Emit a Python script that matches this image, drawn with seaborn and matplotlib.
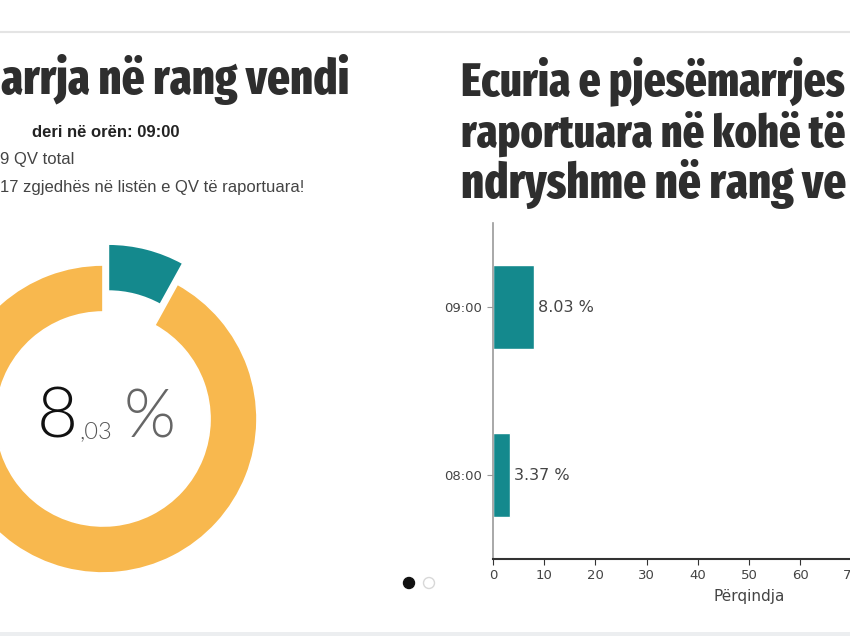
import matplotlib
matplotlib.use("Agg")
import matplotlib.pyplot as plt
from matplotlib.patches import Ellipse, Rectangle
from matplotlib.lines import Line2D
import seaborn as sns
import pandas as pd

# ---- data ----
times = ["09:00", "08:00"]
turnout = [8.03, 3.37]
donut_labels = ["Votuan", "Pa votuar"]
donut_values = [8.03, 91.97]
x_ticks = [0, 10, 20, 30, 40, 50, 60, 70]
title_left = "arrja në rang vendi"
title_right = ["Ecuria e pjesëmarrjes", "raportuara në kohë të", "ndryshme në rang ve"]
info_bold = "deri në orën: 09:00"
info_lines = ["9 QV total", "17 zgjedhës në listën e QV të raportuara!"]

TEAL = "#14898d"
ORANGE = "#f8b84e"
W, H = 850, 636

sns.set_theme(style="white")
plt.rcParams["font.family"] = ["DejaVu Sans"]

fig = plt.figure(figsize=(W / 100, H / 100), dpi=100)
fig.patch.set_facecolor("white")
renderer = fig.canvas.get_renderer()


def fx(x):
    return x / W


def fy(y):
    return 1 - y / H


def fit_text(text, xl, xr, yb, **kw):
    t = fig.text(fx(xl), fy(yb), text, ha="left", va="baseline", fontsize=40, **kw)
    w = t.get_window_extent(renderer).width
    t.set_fontsize(40 * (xr - xl) / w)
    return t


# page borders
fig.add_artist(Line2D([0, 1], [fy(32), fy(32)], color="#e4e4e4", lw=1.5,
                      transform=fig.transFigure))
fig.add_artist(Rectangle((0, 0), 1, fy(632), color="#eceef0",
                         transform=fig.transFigure, lw=0))

# ---- titles and info text ----
TITLE_FONT = ["Fira Sans Extra Condensed", "Barlow Condensed", "DejaVu Sans"]
tkw = dict(fontweight=800, color="#2e2e2e", family=TITLE_FONT)
fit_text(title_left, 1, 349, 94, **tkw)
for line, yb, xr in zip(title_right, [95, 147, 198], [846, 846, 846]):
    fit_text(line, 461, xr, yb, **tkw)

INFO_FONT = ["Liberation Sans", "DejaVu Sans"]
fig.text(fx(32), fy(137), info_bold, ha="left", va="baseline",
         fontsize=12, fontweight="bold", color="#222222", family=INFO_FONT)
for line, yb in zip(info_lines, [164, 192]):
    fig.text(fx(0), fy(yb), line, ha="left", va="baseline",
             fontsize=12, color="#444444", family=INFO_FONT)

# ---- donut ----
R = 154.0
box = 190.0
cx, cy = 103.0, 419.0
axd = fig.add_axes([fx(cx - box), fy(cy + box), 2 * box / W, 2 * box / H])
axd.pie(donut_values, colors=[TEAL, ORANGE], startangle=90, counterclock=False,
        explode=[0.14, 0], radius=1.0,
        wedgeprops=dict(width=47 / R, edgecolor="white", linewidth=1.2))
axd.set_xlim(-box / R, box / R)
axd.set_ylim(-box / R, box / R)
axd.set_aspect("auto")
axd.axis("off")

BIG_FONT = ["Lato", "DejaVu Sans"]
fig.text(fx(37), fy(438), "8", ha="left", va="baseline", fontsize=51,
         fontweight=300, color="#111111", family=BIG_FONT)
fig.text(fx(79), fy(438), ",03", ha="left", va="baseline", fontsize=17,
         fontweight=300, color="#555555", family=BIG_FONT)
fig.text(fx(124), fy(438), "%", ha="left", va="baseline", fontsize=48,
         fontweight=300, color="#666666", family=BIG_FONT)

# pagination dots
fig.add_artist(Ellipse((fx(409), fy(583)), 11 / W, 11 / H, color="#111111",
                       transform=fig.transFigure))
fig.add_artist(Ellipse((fx(429), fy(583)), 11 / W, 11 / H, facecolor="white",
                       edgecolor="#d8d8d8", lw=1, transform=fig.transFigure))

# ---- bar chart ----
df = pd.DataFrame({"time": times, "turnout": turnout})
axb = fig.add_axes([fx(493), fy(559), 512 / W, (559 - 223) / H])
sns.barplot(data=df, x="turnout", y="time", order=times, orient="h",
            color=TEAL, saturation=1, width=0.5, ax=axb)
axb.set_xlim(0, 100)
axb.set_ylim(1.5, -0.5)
axb.set_xticks(x_ticks)
axb.set_xticklabels([str(t) for t in x_ticks])
for c in axb.containers:
    axb.bar_label(c, fmt="%.2f %%", padding=3, fontsize=11.5, color="#444444")
axb.set_ylabel("")
axb.set_xlabel("Përqindja", fontsize=11, color="#444444", labelpad=5)
for s in ["top", "right"]:
    axb.spines[s].set_visible(False)
axb.spines["left"].set_color("#9a9a9a")
axb.spines["left"].set_linewidth(1.2)
axb.spines["bottom"].set_color("#333333")
axb.spines["bottom"].set_linewidth(1.5)
axb.tick_params(axis="y", left=True, length=4, width=0.8, color="#9a9a9a",
                labelsize=9.5, labelcolor="#444444", pad=4)
axb.tick_params(axis="x", bottom=True, length=4, width=0.8, color="#333333",
                labelsize=9.5, labelcolor="#444444", pad=3)
axb.set_facecolor("none")

fig.savefig("out.png", dpi=100, facecolor="white")
